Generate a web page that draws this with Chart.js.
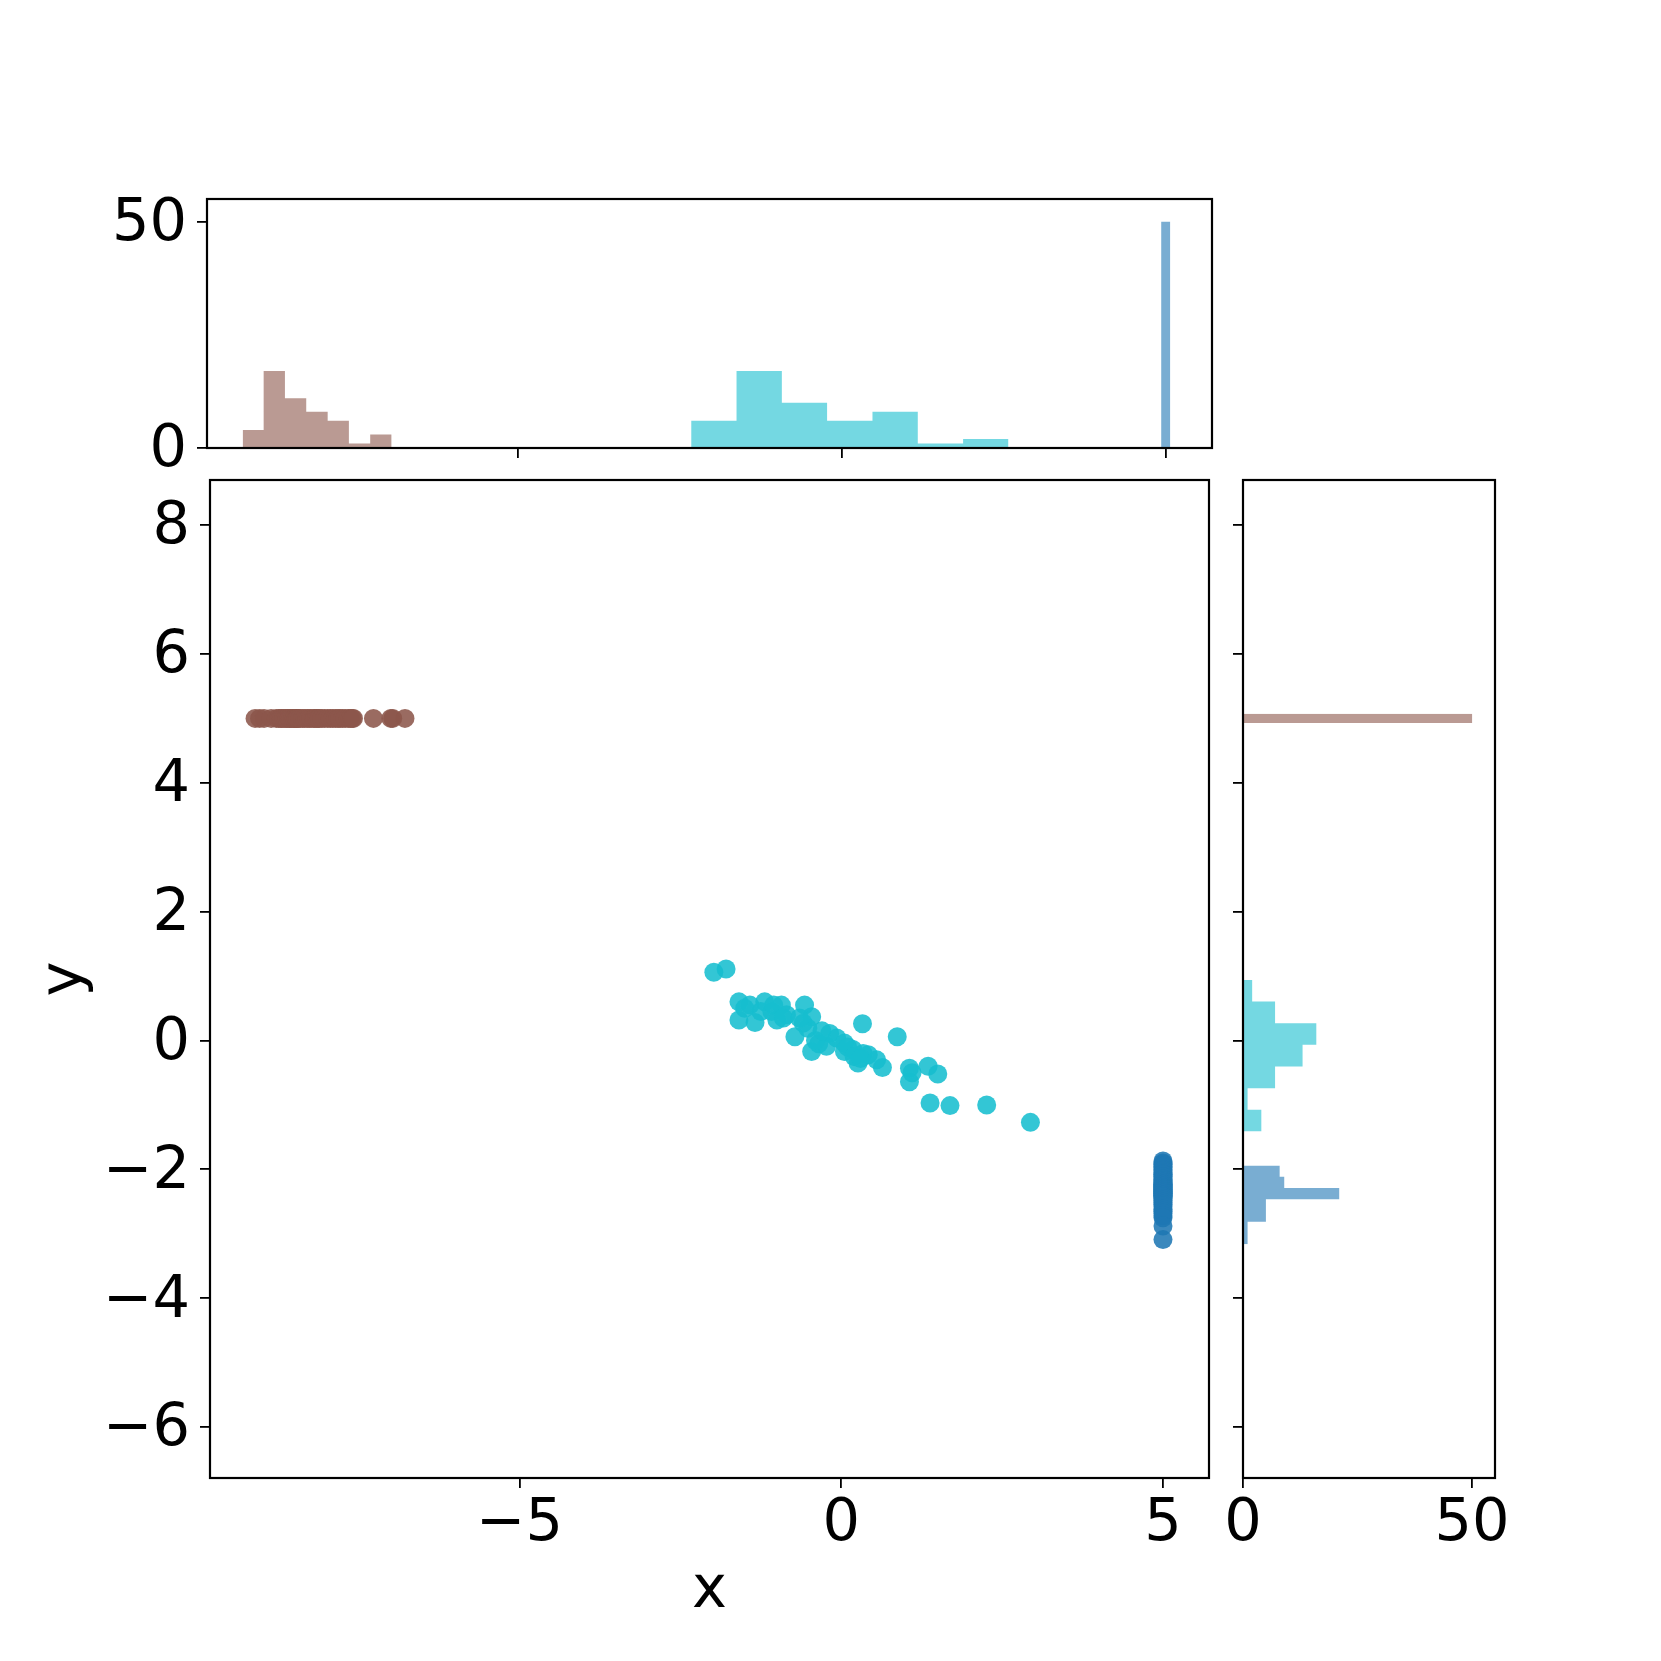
<!DOCTYPE html>
<html>
<head>
<meta charset="utf-8">
<script src="https://cdn.jsdelivr.net/npm/chart.js@4.4.1/dist/chart.umd.min.js"></script>
<style>
  html, body { margin: 0; padding: 0; background: #fff; }
  #wrap { position: relative; width: 1661px; height: 1661px; }
  #wrap canvas { position: absolute; left: 0; top: 0; }
</style>
</head>
<body>
<div id="wrap">
  <canvas id="topHist" width="1661" height="1661"></canvas>
  <canvas id="sideHist" width="1661" height="1661"></canvas>
  <canvas id="scatter" width="1661" height="1661"></canvas>
</div>
<script>
// axis limits (x shared by scatter + top marginal, y by scatter + side marginal)
var xMin = -9.81, xMax = 5.715;
var yMin = -6.79, yMax = 8.70;
var countMax = 55;

var xTicks = [-5, 0, 5];
var yTicks = [-6, -4, -2, 0, 2, 4, 6, 8];
var countTicks = [0, 50];

// scatter: brown group (all at y = 5)
var brownX = [
  -9.11, -9.04, -8.97, -8.86,
  -8.78, -8.74, -8.71, -8.69, -8.66, -8.63, -8.61, -8.58, -8.57, -8.55,
  -8.52, -8.50, -8.49, -8.47, -8.46, -8.45, -8.44,
  -8.41, -8.37, -8.34, -8.30, -8.27, -8.24, -8.20, -8.18, -8.15, -8.13, -8.11,
  -8.07, -8.03, -7.98, -7.94, -7.90, -7.86, -7.82, -7.79,
  -7.75, -7.71, -7.66, -7.63, -7.60, -7.58,
  -7.27, -7.00, -6.97, -6.78,
];
var brownYValue = 5;

// scatter: cyan group
var cyanX = [
  -1.98, -1.79, -1.59, -1.59, -1.42, -1.34, -1.19, -1.08, -1.00, -0.93,
  -0.85, -0.72, -0.57, -0.46, -0.59, -0.52, -0.46, -0.23, -0.18, -0.07,
  0.05, 0.05, 0.18, 0.26, 0.34, 0.42, 0.33, 0.64, 0.87, 1.06,
  1.06, 1.35, 1.50, 1.38, 1.69, 2.26, 2.94, -1.25, -1.05, -0.65,
  -0.35, -0.40, 0.10, 0.20, -0.30, -0.90, 0.30, 1.10, -1.50, 0.55,
];
var cyanY = [
  1.06, 1.11, 0.60, 0.32, 0.55, 0.28, 0.60, 0.45, 0.32, 0.55,
  0.40, 0.06, 0.55, 0.37, 0.27, 0.19, -0.17, -0.09, 0.11, 0.04,
  -0.04, -0.17, -0.14, -0.35, -0.20, -0.22, 0.26, -0.42, 0.06, -0.43,
  -0.64, -0.40, -0.52, -0.97, -1.01, -1.00, -1.27, 0.45, 0.55, 0.35,
  -0.05, 0.00, -0.10, -0.25, 0.15, 0.35, -0.28, -0.50, 0.50, -0.30,
];

// scatter: blue group (all at x = 5)
var blueXValue = 5;
var blueY = [
  -1.87, -1.90, -1.92, -1.95, -1.97, -2.00, -2.02, -2.05,
  -2.07, -2.08, -2.11, -2.12, -2.15, -2.16, -2.18, -2.20, -2.22,
  -2.23, -2.24, -2.25, -2.26, -2.27, -2.28, -2.29, -2.30, -2.31, -2.32,
  -2.33, -2.34, -2.35, -2.36, -2.37, -2.38, -2.39, -2.40, -2.41, -2.42, -2.43,
  -2.45, -2.48, -2.51, -2.54, -2.57,
  -2.62, -2.65, -2.68, -2.72, -2.75,
  -2.88, -3.09,
];

// top marginal histograms (bin edges along x, counts)
var brownEdgesX = [-9.259, -8.935, -8.606, -8.277, -7.946, -7.618, -7.289, -6.958];
var brownCountsX = [4, 17, 11, 8, 6, 1, 3];
var cyanEdgesX = [-2.331, -1.630, -0.930, -0.231, 0.470, 1.170, 1.870, 2.571];
var cyanCountsX = [6, 17, 10, 6, 8, 1, 2];
var blueEdgesX = [4.929, 5.071];
var blueCountsX = [50];

// side marginal histograms (bin edges along y, counts)
var brownEdgesY = [5.071, 4.929];
var brownCountsY = [50];
var cyanEdgesY = [0.941, 0.605, 0.269, -0.067, -0.403, -0.739, -1.075, -1.411];
var cyanCountsY = [2, 7, 16, 13, 7, 1, 4];
var blueEdgesY = [-1.938, -2.113, -2.288, -2.463, -2.638, -2.813, -2.988, -3.163];
var blueCountsY = [8, 9, 21, 5, 5, 1, 1];

var BROWN = '140, 86, 75';
var CYAN = '23, 190, 207';
var BLUE = '31, 119, 180';

Chart.defaults.font.family = "'DejaVu Sans', sans-serif";
Chart.defaults.color = '#000';

// black box round the plot area, drawn over the data like matplotlib spines
var frame = {
  id : 'frame',
  afterDatasetsDraw : function (chart) {
    var a = chart.chartArea;
    var ctx = chart.ctx;
    ctx.save();
    ctx.strokeStyle = '#000';
    ctx.lineWidth = 2.2;
    ctx.strokeRect(a.left, a.top, a.right - a.left, a.bottom - a.top);
    ctx.restore();
  },
};

function fmt(v) {
  return v < 0 ? '\u2212' + Math.abs(v) : String(v);
}

/**
 * linear axis with fixed ticks and a fixed box size (height for x, width for y)
 */
function axis(dir, min, max, ticks, showLabels, size, title) {
  var isX = dir === 'x';
  return {
    type : 'linear',
    min : min,
    max : max,
    afterBuildTicks : function (scale) {
      scale.ticks = ticks.map(function (v) { return { value : v }; });
    },
    afterFit : function (scale) {
      if (isX) { scale.height = size; } else { scale.width = size; }
    },
    border : { display : false },
    grid : {
      display : true,
      drawOnChartArea : false,
      drawTicks : true,
      tickLength : 10,
      color : '#000',
      lineWidth : 1.8,
    },
    ticks : {
      display : showLabels,
      font : { size : 59, lineHeight : 1 },
      color : '#000',
      padding : isX ? 7 : 10,
      labelOffset : isX ? 0 : 3,
      callback : fmt,
    },
    title : title || { display : false },
  };
}

// outline of a histogram whose bins run along x
function colOutline(edges, counts) {
  var pts = [{ x : edges[0], y : 0 }];
  counts.forEach(function (c, i) {
    pts.push({ x : edges[i], y : c });
    pts.push({ x : edges[i + 1], y : c });
  });
  pts.push({ x : edges[edges.length - 1], y : 0 });
  return pts;
}

// outline of a histogram whose bins run along y
function rowOutline(edges, counts) {
  var pts = [{ x : 0, y : edges[0] }];
  counts.forEach(function (c, i) {
    pts.push({ x : c, y : edges[i] });
    pts.push({ x : c, y : edges[i + 1] });
  });
  pts.push({ x : 0, y : edges[edges.length - 1] });
  return pts;
}

function histSet(points, rgb) {
  return {
    data : points,
    fill : 'origin',
    backgroundColor : 'rgba(' + rgb + ', 0.6)',
    borderColor : 'rgba(0, 0, 0, 0)',
    borderWidth : 0,
    pointRadius : 0,
    tension : 0,
  };
}

var common = {
  responsive : false,
  animation : false,
  events : [],
  plugins : { legend : { display : false }, tooltip : { enabled : false } },
};

// top marginal
new Chart(document.getElementById('topHist'), {
  type : 'line',
  data : {
    datasets : [
      histSet(colOutline(brownEdgesX, brownCountsX), BROWN),
      histSet(colOutline(cyanEdgesX, cyanCountsX), CYAN),
      histSet(colOutline(blueEdgesX, blueCountsX), BLUE),
    ],
  },
  options : Object.assign({}, common, {
    layout : { padding : { left : 0, right : 449, top : 199, bottom : 1193 } },
    scales : {
      x : axis('x', xMin, xMax, xTicks, false, 20),
      y : axis('y', 0, countMax, countTicks, true, 207),
    },
  }),
  plugins : [frame],
});

// side marginal
new Chart(document.getElementById('sideHist'), {
  type : 'line',
  data : {
    datasets : [
      histSet(rowOutline(brownEdgesY, brownCountsY), BROWN),
      histSet(rowOutline(cyanEdgesY, cyanCountsY), CYAN),
      histSet(rowOutline(blueEdgesY, blueCountsY), BLUE),
    ],
  },
  options : Object.assign({}, common, {
    indexAxis : 'y',
    layout : { padding : { left : 1223, right : 166, top : 480, bottom : 0 } },
    scales : {
      x : axis('x', 0, countMax, countTicks, true, 183),
      y : axis('y', yMin, yMax, yTicks, false, 20),
    },
  }),
  plugins : [frame],
});

function scatterSet(xs, ys, rgb) {
  return {
    data : xs.map(function (x, i) { return { x : x, y : ys[i] }; }),
    pointRadius : 9.5,
    pointBackgroundColor : 'rgba(' + rgb + ', 0.88)',
    pointBorderWidth : 0,
    pointBorderColor : 'rgba(0, 0, 0, 0)',
  };
}

// joint scatter
new Chart(document.getElementById('scatter'), {
  type : 'scatter',
  data : {
    datasets : [
      scatterSet(brownX, brownX.map(function () { return brownYValue; }), BROWN),
      scatterSet(cyanX, cyanY, CYAN),
      scatterSet(blueY.map(function () { return blueXValue; }), blueY, BLUE),
    ],
  },
  options : Object.assign({}, common, {
    layout : { padding : { left : 0, right : 452, top : 480, bottom : 0 } },
    scales : {
      x : axis('x', xMin, xMax, xTicks, true, 183, {
        display : true, text : 'x', font : { size : 59, lineHeight : 1 }, padding : { top : 0, bottom : 40 },
      }),
      y : axis('y', yMin, yMax, yTicks, true, 210, {
        display : true, text : 'y', font : { size : 59, lineHeight : 1 }, padding : { top : 36, bottom : 0 },
      }),
    },
  }),
  plugins : [frame],
});
</script>
</body>
</html>
